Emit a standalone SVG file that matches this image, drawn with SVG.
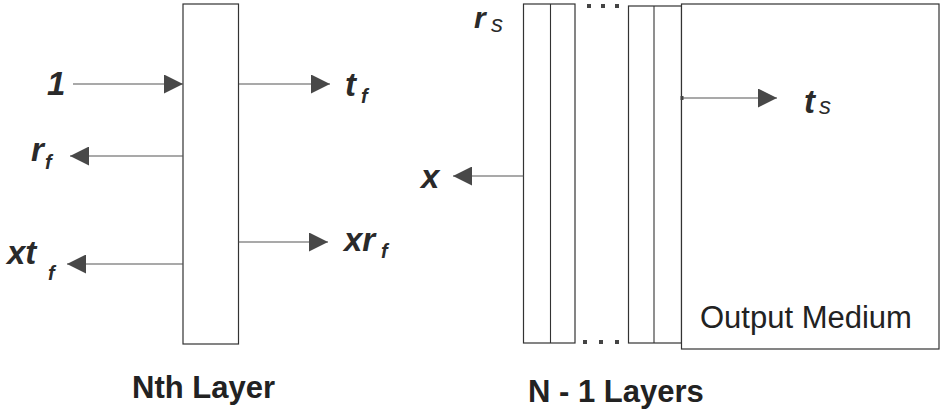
<svg xmlns="http://www.w3.org/2000/svg" width="941" height="417" viewBox="0 0 941 417">
<style>
.box{fill:#fff;stroke:#333;stroke-width:1.2}
.ln{stroke:#555;stroke-width:1.1;fill:none}
.arr{marker-end:url(#ah)}
.lab{font-family:"Liberation Sans",Arial,sans-serif;font-weight:bold;font-style:italic;fill:#2a2a2a;font-size:33px}
.sub{font-family:"Liberation Sans",Arial,sans-serif;font-weight:bold;font-style:italic;fill:#2a2a2a;font-size:20px}
.subr{font-family:"Liberation Sans",Arial,sans-serif;font-style:italic;fill:#2a2a2a;font-size:24px}
.cap{font-family:"Liberation Sans",Arial,sans-serif;font-weight:bold;fill:#222;font-size:31px}
.dot{fill:#444}
</style>
<defs>
<marker id="ah" markerUnits="userSpaceOnUse" markerWidth="19" markerHeight="19" refX="19" refY="9.5" orient="auto">
<path d="M0,0 L19,9.5 L0,19 z" fill="#484848"/>
</marker>
</defs>
<rect width="941" height="417" fill="#fff"/>

<g id="nth-layer">
<rect class="box" x="183" y="4" width="55.5" height="340"/>
<text class="cap" x="132" y="398">Nth Layer</text>
</g>

<g id="n-1-layers">
<rect class="box" x="523.5" y="4" width="51.5" height="339"/>
<line class="ln" x1="550.5" y1="4" x2="550.5" y2="343" style="stroke:#333"/>
<rect class="box" x="628.5" y="6" width="53" height="337"/>
<line class="ln" x1="654" y1="6" x2="654" y2="343" style="stroke:#333"/>
<rect class="dot" x="587" y="4" width="4" height="4"/>
<rect class="dot" x="601" y="4" width="4" height="4"/>
<rect class="dot" x="615" y="4" width="4" height="4"/>
<rect class="dot" x="583" y="340" width="4" height="4"/>
<rect class="dot" x="599" y="340" width="4" height="4"/>
<rect class="dot" x="615" y="340" width="4" height="4"/>
<text class="cap" x="528" y="402">N - 1 Layers</text>
</g>

<g id="output-medium">
<rect class="box" x="681.5" y="4" width="257.5" height="345"/>
<text x="700" y="328" font-family="'Liberation Sans',Arial,sans-serif" font-size="31" fill="#222">Output Medium</text>
</g>

<g id="connectors">
<line class="ln arr" x1="73" y1="84" x2="183" y2="84"/>
<line class="ln arr" x1="239" y1="84" x2="330" y2="84"/>
<line class="ln arr" x1="183" y1="156" x2="70" y2="156"/>
<line class="ln arr" x1="238.5" y1="242" x2="328" y2="242"/>
<line class="ln arr" x1="183" y1="264" x2="67" y2="264"/>
<line class="ln arr" x1="523.5" y1="176" x2="453" y2="176"/>
<line class="ln arr" x1="682" y1="98" x2="777" y2="98"/>
<rect class="dot" x="680.5" y="96" width="3" height="4"/>
</g>

<g id="labels">
<text class="lab" x="47" y="95">1</text>
<text class="lab" x="345" y="96">t</text><text class="sub" x="361" y="103">f</text>
<text class="lab" x="31" y="161">r</text><text class="sub" x="45" y="169">f</text>
<text class="lab" x="344" y="251">xr</text><text class="sub" x="381" y="258">f</text>
<text class="lab" x="7" y="264">xt</text><text class="sub" x="48" y="280">f</text>
<text class="lab" x="421" y="188">x</text>
<text class="lab" x="474" y="28" style="font-size:30px">r</text><text class="subr" x="491" y="32">s</text>
<text class="lab" x="804" y="113">t</text><text class="subr" x="819" y="114">s</text>
</g>
</svg>
